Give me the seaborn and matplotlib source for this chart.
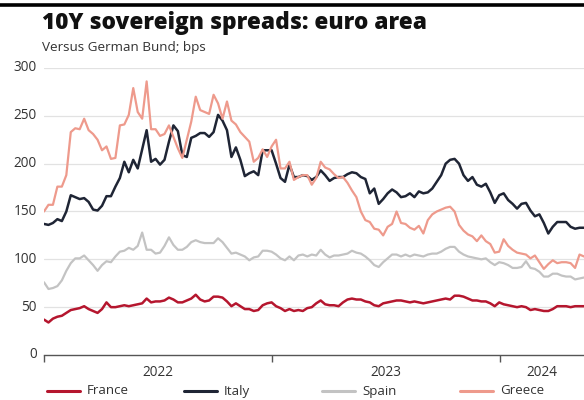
import numpy as np
import pandas as pd
import matplotlib
matplotlib.use("Agg")
import matplotlib.pyplot as plt
from matplotlib.lines import Line2D
import matplotlib.transforms as mtransforms
import seaborn as sns

# Weekly 10-year spreads over the German Bund, in basis points
start_date = "2022-01-01"
end_date = "2024-05-15"

france = [37, 34, 38, 40, 41, 44, 47, 48, 49, 51, 48, 46, 44, 48, 55, 50, 50, 51, 52, 51,
          52, 53, 54, 59, 55, 56, 56, 57, 60, 58, 55, 55, 57, 59, 63, 58, 56, 57, 61, 61,
          60, 56, 51, 54, 51, 48, 48, 46, 47, 52, 54, 55, 51, 49, 46, 48, 46, 47,
          46, 49, 50, 54, 57, 53, 52, 52, 51, 55, 58, 59, 58, 58, 56, 55, 52, 51, 54, 55,
          56, 57, 57, 56, 55, 56, 55, 54, 55, 56, 57, 58, 59, 58, 62, 62, 61, 59, 57, 57,
          56, 56, 54, 51, 55, 53, 52, 51, 50, 51, 50, 47, 48, 47, 46, 46, 48, 51, 51, 51,
          50, 51, 51, 51]

italy = [137, 136, 138, 142, 140, 150, 167, 165, 163, 164, 160, 152, 151, 156, 166, 166, 176, 185, 202, 191,
         204, 195, 215, 235, 202, 205, 199, 204, 223, 240, 234, 209, 207, 227, 229, 232, 232, 228, 233, 251,
         245, 235, 207, 217, 204, 187, 190, 192, 188, 214, 214, 214, 200, 185, 181, 199, 186, 186,
         188, 187, 183, 186, 193, 188, 182, 185, 186, 186, 189, 191, 190, 186, 184, 169, 174, 158, 163, 169,
         173, 170, 165, 166, 169, 165, 171, 169, 170, 174, 181, 188, 200, 204, 205, 200, 188, 182, 186, 178,
         176, 179, 170, 159, 167, 169, 162, 158, 153, 158, 159, 151, 145, 147, 138, 127, 134, 139, 139, 139,
         134, 132, 133, 133]

spain = [76, 69, 70, 72, 78, 88, 96, 101, 101, 104, 99, 94, 88, 94, 98, 97, 103, 108, 109, 112,
         110, 114, 128, 110, 110, 106, 107, 114, 123, 115, 110, 110, 113, 118, 120, 118, 117, 117, 117, 122,
         118, 112, 106, 107, 105, 103, 99, 102, 103, 109, 109, 108, 105, 101, 99, 103, 99, 104,
         105, 103, 105, 104, 110, 105, 102, 104, 104, 105, 106, 109, 107, 106, 103, 99, 94, 92, 97, 101,
         105, 105, 103, 105, 103, 105, 104, 103, 105, 106, 106, 108, 111, 113, 113, 108, 105, 103, 102, 101,
         100, 101, 97, 94, 97, 96, 94, 91, 91, 92, 98, 91, 90, 87, 82, 82, 85, 85, 83, 82,
         82, 79, 80, 81]

greece = [150, 157, 157, 176, 176, 188, 233, 237, 236, 247, 235, 231, 225, 214, 218, 205, 206, 240, 241, 251,
          279, 254, 247, 286, 236, 236, 229, 231, 240, 228, 216, 206, 225, 244, 270, 256, 254, 252, 272, 263,
          247, 265, 245, 241, 233, 228, 223, 202, 206, 215, 207, 218, 225, 195, 195, 202, 183, 186,
          188, 188, 178, 185, 202, 196, 194, 189, 185, 186, 180, 172, 165, 150, 141, 139, 132, 131, 125, 134,
          137, 150, 138, 137, 133, 131, 135, 127, 141, 147, 150, 152, 154, 155, 150, 136, 130, 126, 124, 119,
          125, 119, 116, 107, 108, 121, 114, 110, 107, 106, 105, 101, 104, 97, 90, 95, 99, 96, 97, 97,
          96, 91, 105, 103]

countries = ["France", "Italy", "Spain", "Greece"]
series = [france, italy, spain, greece]
colors = {"France": "#b5162e", "Italy": "#1f2535", "Spain": "#c3c3c3", "Greece": "#ee9a8c"}
widths = {"France": 1.8, "Italy": 1.8, "Spain": 1.6, "Greece": 1.6}

y_ticks = [0, 50, 100, 150, 200, 250, 300]
year_labels = ["2022", "2023", "2024"]

dates = pd.date_range(start_date, end_date, periods=len(france))
df = pd.concat(
    [pd.DataFrame({"date": dates, "spread": vals, "country": name})
     for name, vals in zip(countries, series)],
    ignore_index=True,
)

sns.set_theme(style="white")
plt.rcParams["font.family"] = ["Open Sans", "DejaVu Sans"]

fig = plt.figure(figsize=(5.84, 4.0), dpi=100)
ax = fig.add_axes([44 / 584, 1 - 355 / 400, 540 / 584, (355 - 68) / 400])

for name in countries:
    sns.lineplot(data=df[df["country"] == name], x="date", y="spread",
                 color=colors[name], linewidth=widths[name], ax=ax,
                 legend=False, clip_on=True)

x0 = pd.Timestamp(start_date)
x1 = pd.Timestamp(end_date)
ax.set_xlim(x0, x1)
ax.set_ylim(0, 300)

# horizontal grid only
for v in y_ticks[1:]:
    ax.axhline(v, color="#e2e2e2", linewidth=0.9, zorder=0)

for side in ["top", "right", "left"]:
    ax.spines[side].set_visible(False)
ax.spines["bottom"].set_color("#555555")
ax.spines["bottom"].set_linewidth(1.0)

ax.set_xlabel("")
ax.set_ylabel("")
ax.set_yticks([])
ax.set_xticks([pd.Timestamp("2022-01-01"), pd.Timestamp("2023-01-01"), pd.Timestamp("2024-01-01")])
ax.set_xticklabels([])
ax.tick_params(axis="x", direction="out", length=5, width=1.0, color="#555555", bottom=True)

# y labels, right-aligned just left of the plot
ytrans = mtransforms.blended_transform_factory(fig.transFigure, ax.transData)
for v in y_ticks:
    ax.text(37 / 584, v, str(v), transform=ytrans, ha="right", va="center",
            fontsize=9.8, color="#333333")

# year labels centred in each year span
xtrans = mtransforms.blended_transform_factory(ax.transData, fig.transFigure)
year_starts = [pd.Timestamp("2022-01-01"), pd.Timestamp("2023-01-01"), pd.Timestamp("2024-01-01")]
year_ends = [pd.Timestamp("2023-01-01"), pd.Timestamp("2024-01-01"), x1]
for lbl, s, e in zip(year_labels, year_starts, year_ends):
    mid = s + (e - s) / 2
    ax.text(mid, 1 - 373 / 400, lbl, transform=xtrans, ha="center", va="center",
            fontsize=9.8, color="#333333", clip_on=False)

# top rule
fig.add_artist(Line2D([0, 1], [1 - 5 / 400, 1 - 5 / 400], transform=fig.transFigure,
                      color="black", linewidth=2.6))

fig.text(42 / 584, 1 - 23 / 400, "10Y sovereign spreads: euro area",
         fontsize=16.3, fontweight="heavy", color="#111111", va="center", ha="left")
fig.text(42 / 584, 1 - 48 / 400, "Versus German Bund; bps",
         fontsize=9.7, color="#333333", va="center", ha="left")

# legend row along the bottom
leg_x = [47, 184, 322, 460]
for name, xs in zip(countries, leg_x):
    fig.add_artist(Line2D([xs / 584, (xs + 33) / 584], [1 - 391 / 400, 1 - 391 / 400],
                          transform=fig.transFigure, color=colors[name], linewidth=2.2))
    fig.text((xs + 40) / 584, 1 - 391 / 400, name, fontsize=9.6, color="#333333",
             va="center", ha="left")

fig.savefig("out.png", dpi=100)
